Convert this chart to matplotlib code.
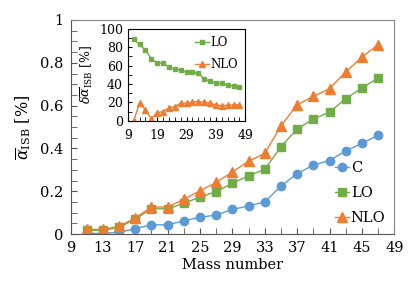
import matplotlib
matplotlib.use('Agg')
import matplotlib.pyplot as plt
import numpy as np

mass = [11, 13, 15, 17, 19, 21, 23, 25, 27, 29, 31, 33, 35, 37, 39, 41, 43, 45, 47]
alpha_c = [0.003, 0.003, 0.008, 0.025, 0.043, 0.043, 0.062, 0.078, 0.089, 0.115,
           0.131, 0.150, 0.224, 0.282, 0.322, 0.343, 0.388, 0.424, 0.461]
alpha_lo = [0.017, 0.017, 0.031, 0.070, 0.118, 0.118, 0.143, 0.173, 0.198, 0.237,
            0.272, 0.302, 0.408, 0.491, 0.537, 0.570, 0.632, 0.682, 0.729]
alpha_nlo = [0.022, 0.022, 0.036, 0.075, 0.126, 0.126, 0.162, 0.202, 0.241, 0.290,
             0.340, 0.377, 0.505, 0.604, 0.643, 0.679, 0.757, 0.826, 0.885]
delta_lo = [88.5, 83.0, 76.8, 67.4, 62.7, 62.7, 58.4, 55.9, 55.4, 52.6,
            52.6, 52.2, 45.3, 43.2, 40.7, 40.7, 38.5, 38.0, 37.0]
delta_nlo = [0.0, 19.5, 12.0, 2.5, 9.0, 10.0, 14.0, 15.5, 19.0, 19.0,
             20.5, 21.0, 20.0, 19.5, 17.0, 16.5, 17.0, 17.3, 17.5]

blue = '#5B9BD5'
green = '#70AD47'
orange = '#ED7D31'

plt.rcParams['font.family'] = ['DejaVu Serif']
plt.rcParams['mathtext.fontset'] = 'dejavuserif'

fig = plt.figure(figsize=(4.15, 2.94), dpi=100)
ax = fig.add_axes([0.170, 0.204, 0.780, 0.728])

ax.plot(mass, alpha_c, color=blue, lw=1, marker='o', ms=6, label='C')
ax.plot(mass, alpha_lo, color=green, lw=1, marker='s', ms=6, label='LO')
ax.plot(mass, alpha_nlo, color=orange, lw=1, marker='^', ms=7, label='NLO')

ax.set_xlim(9, 49)
ax.set_ylim(0, 1)
ax.set_xticks(np.arange(9, 50, 4))
ax.set_xticks(np.arange(9, 50, 2), minor=True)
ax.set_yticks([0, 0.2, 0.4, 0.6, 0.8, 1])
ax.set_yticklabels(['0', '0.2', '0.4', '0.6', '0.8', '1'])
ax.set_yticks(np.arange(0, 1.01, 0.05), minor=True)
ax.tick_params(which='both', direction='in', labelsize=10.5, color='#555555')
ax.tick_params(which='major', length=4, pad=5)
ax.tick_params(which='minor', length=4)
for s in ['top', 'right']:
    ax.spines[s].set_color('#888888')
for s in ['left', 'bottom']:
    ax.spines[s].set_color('#555555')
ax.set_xlabel('Mass number', fontsize=10.5, labelpad=2)
ax.set_ylabel(r'$\overline{\alpha}_{\mathrm{ISB}}$ [%]', fontsize=11.5, labelpad=5)
ax.legend(loc='lower right', frameon=False, fontsize=10.5, handlelength=1.0,
          handletextpad=0.1, borderaxespad=0.2, labelspacing=0.75)

ins = fig.add_axes([0.308, 0.589, 0.283, 0.313])
ins.plot(mass, delta_lo, color=green, lw=1, marker='s', ms=3.5, label='LO')
ins.plot(mass, delta_nlo, color=orange, lw=1, marker='^', ms=4, label='NLO')
ins.set_xlim(9, 49)
ins.set_ylim(0, 100)
ins.set_xticks([9, 19, 29, 39, 49])
ins.set_xticks(np.arange(11, 49, 2), minor=True)
ins.set_yticks(np.arange(0, 101, 20))
ins.set_yticks(np.arange(0, 101, 10), minor=True)
ins.tick_params(which='both', direction='in', labelsize=9, length=3)
ins.tick_params(axis='x', pad=6)
ins.set_ylabel(r'$\delta\overline{\alpha}_{\mathrm{ISB}}$ [%]', fontsize=9, labelpad=3)
ins.legend(loc='upper right', frameon=False, fontsize=8.5, handlelength=1.2,
           handletextpad=0.1, borderaxespad=0.2, labelspacing=0.8)

fig.savefig('out.png', dpi=100)
